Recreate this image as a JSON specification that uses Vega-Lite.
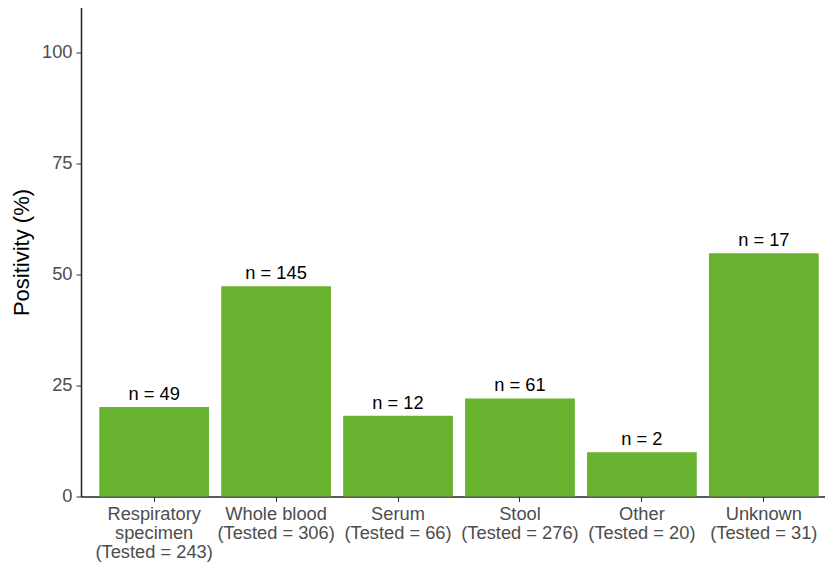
{
  "$schema": "https://vega.github.io/schema/vega-lite/v6.json",
  "width": 744,
  "height": 489,
  "autosize": {"type": "none"},
  "padding": {"left": 81, "top": 7.5, "right": 0, "bottom": 70},
  "background": "white",
  "config": {"view": {"stroke": null}, "font": "Liberation Sans"},
  "data": {
    "values": [
      {"type": "Respiratory|specimen|(Tested = 243)", "positivity": 20.16, "label": "n = 49"},
      {"type": "Whole blood|(Tested = 306)", "positivity": 47.39, "label": "n = 145"},
      {"type": "Serum|(Tested = 66)", "positivity": 18.18, "label": "n = 12"},
      {"type": "Stool|(Tested = 276)", "positivity": 22.10, "label": "n = 61"},
      {"type": "Other|(Tested = 20)", "positivity": 10.0, "label": "n = 2"},
      {"type": "Unknown|(Tested = 31)", "positivity": 54.84, "label": "n = 17"}
    ]
  },
  "encoding": {
    "x": {
      "field": "type",
      "type": "nominal",
      "sort": null,
      "scale": {"range": [0, 756], "paddingInner": 0.1, "paddingOuter": 0.15},
      "axis": {
        "title": null,
        "labelAngle": 0,
        "labelExpr": "split(datum.label, '|')",
        "labelFontSize": 18.3,
        "labelColor": "#4d4d4d",
        "labelLineHeight": 19,
        "labelPadding": 4,
        "labelBaseline": "top",
        "tickSize": 5,
        "tickColor": "#333333",
        "domainColor": "#222222",
        "domainWidth": 1.5
      }
    },
    "y": {
      "field": "positivity",
      "type": "quantitative",
      "scale": {"domain": [0, 110.2], "nice": false},
      "axis": {
        "title": "Positivity (%)",
        "titleFontSize": 22,
        "titleFontWeight": "normal",
        "titleColor": "black",
        "titlePadding": 8,
        "values": [0, 25, 50, 75, 100],
        "grid": false,
        "labelFontSize": 18.3,
        "labelColor": "#4d4d4d",
        "labelPadding": 4,
        "tickSize": 5,
        "tickColor": "#333333",
        "domainColor": "#222222",
        "domainWidth": 1.5
      }
    }
  },
  "layer": [
    {"mark": {"type": "bar", "color": "#67b22f"}},
    {
      "mark": {"type": "text", "baseline": "alphabetic", "dy": -7, "fontSize": 18.3, "color": "black"},
      "encoding": {"text": {"field": "label"}}
    }
  ]
}
